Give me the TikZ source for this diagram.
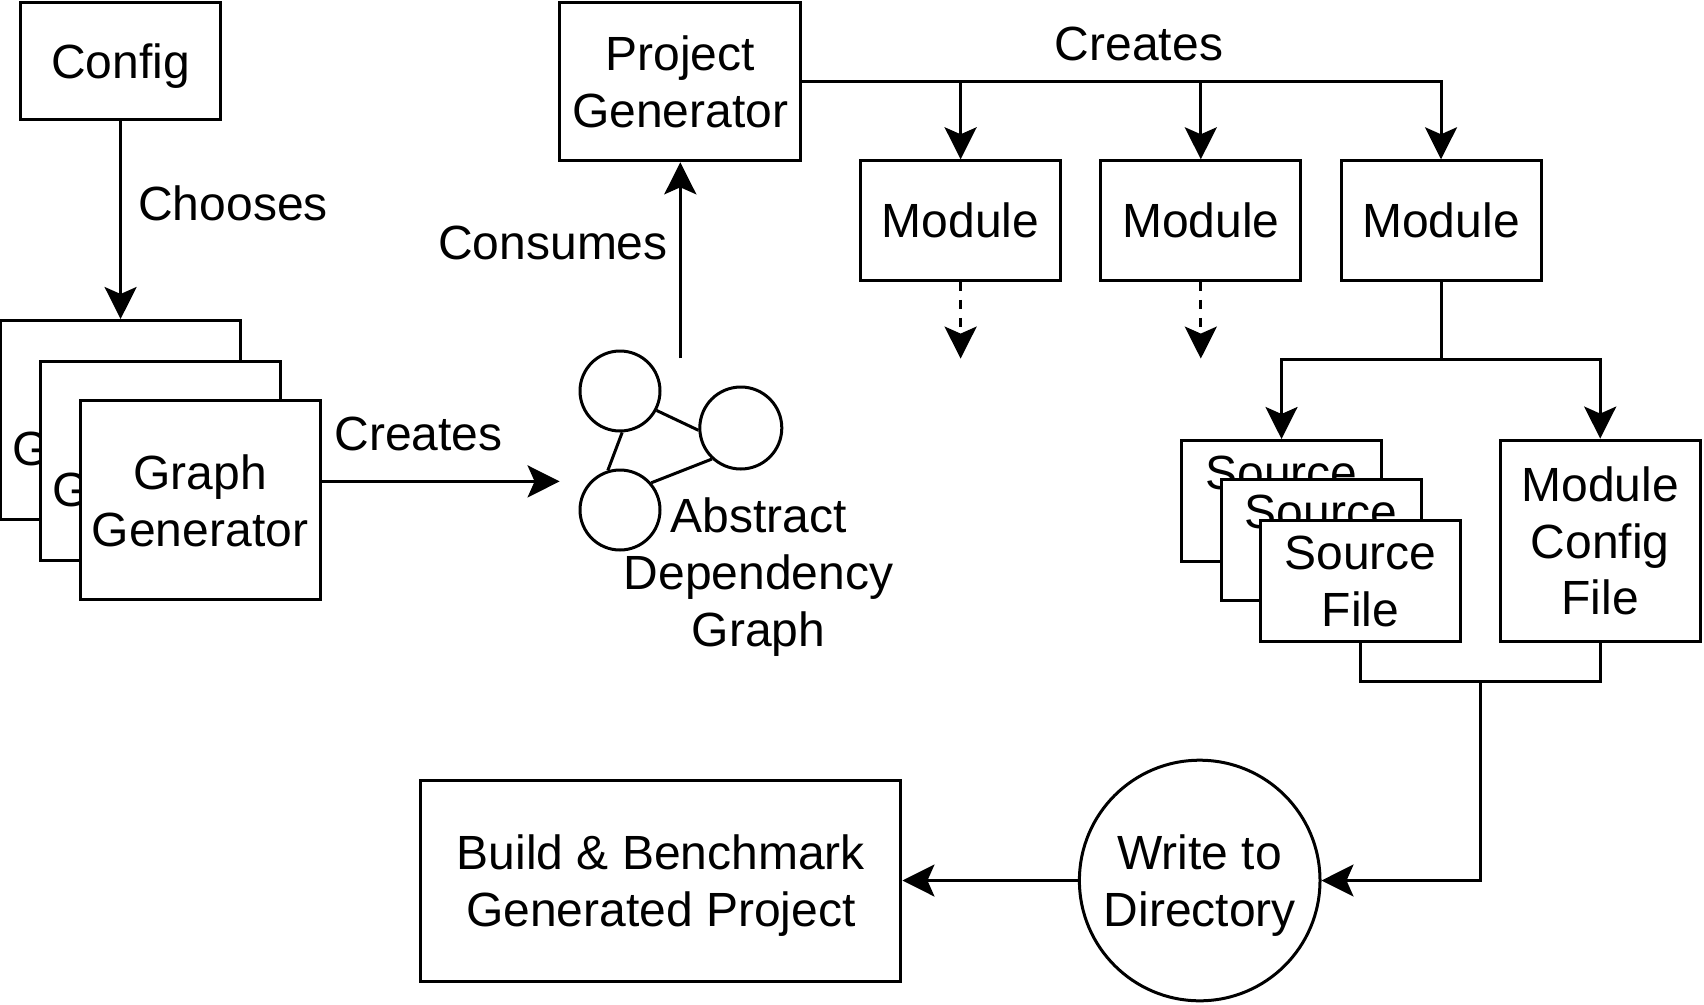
\documentclass[tikz,border=0pt]{standalone}
\usepackage{fontspec}
\setmainfont{Liberation Sans}
\usetikzlibrary{arrows.meta}
\begin{document}
\begin{tikzpicture}[x=1pt,y=-1pt,
  every node/.style={font=\fontsize{48}{56.7}\selectfont, inner sep=0pt, align=center},
  box/.style={draw, line width=3pt, fill=white, text depth=-6pt},
  ring/.style={circle, draw, line width=3pt, fill=white},
  line/.style={line width=3pt},
  arr/.style={line width=3pt, -{Stealth[length=32pt,width=32pt,inset=7pt]}},
  dashedarr/.style={arr, dash pattern=on 9pt off 9pt},
]
\useasboundingbox (0,0) rectangle (1704,1004);

% Config
\node[box, minimum width=200pt, minimum height=117pt] (config) at (120.6,61) {Config};
\node (chooses) at (233,203) {Chooses};

% Graph generator stack
\node[box, minimum width=240pt, minimum height=199pt] (gg1) at (120.6,420) {Graph\\Generator};
\node[box, minimum width=240pt, minimum height=199pt] (gg2) at (160.3,460.8) {Graph\\Generator};
\node[box, minimum width=240pt, minimum height=199pt] (gg3) at (200,500.4) {Graph\\Generator};
\draw[arr] (config) -- (gg1);

% Abstract graph icon
\node[minimum width=241pt, minimum height=245.6pt] (graph) at (680.3,481.4) {};
\node[ring, minimum size=80pt] (c1) at (620,391) {};
\node[ring, minimum size=82pt] (c2) at (740.8,428) {};
\node[ring, minimum size=80pt] (c3) at (620,510) {};
\draw[line] (c1.-28.5) -- (c2.183);
\draw[line] (c1.-87.6) -- (c3.107);
\draw[line] (c3.41.8) -- (c2.227.7);
\node (adg) at (758.5,577) {Abstract\\Dependency\\Graph};

\draw[arr] (gg3.east |- graph.west) -- (graph.west);
\node (creates1) at (418.4,433.6) {Creates};

% Project generator
\node[box, minimum width=241pt, minimum height=158.6pt] (pg) at (680.3,81.5) {Project\\Generator};
\draw[arr] (graph.north) -- (pg.south);
\node (consumes) at (553,243.4) {Consumes};

% Modules
\node[box, minimum width=200pt, minimum height=119.6pt] (m1) at (960.6,220.6) {Module};
\node[box, minimum width=200pt, minimum height=119.6pt] (m2) at (1200.8,220.6) {Module};
\node[box, minimum width=200pt, minimum height=119.6pt] (m3) at (1441,220.6) {Module};
\draw[arr] (pg.east) -| (m1.north);
\draw[arr] (pg.east) -| (m2.north);
\draw[arr] (pg.east) -| (m3.north);
\node (creates2) at (1139,43.5) {Creates};

\coordinate (d1) at (960.6,358.6);
\coordinate (d2) at (1200.8,358.6);
\draw[dashedarr] (m1.south) -- (d1);
\draw[dashedarr] (m2.south) -- (d2);

% Source files and module config file
\node[box, minimum width=200pt, minimum height=121pt] (sf1) at (1281.5,501) {Source\\File};
\node[box, minimum width=200pt, minimum height=121pt] (sf2) at (1321,540.1) {Source\\File};
\node[box, minimum width=200pt, minimum height=121pt] (sf3) at (1360.5,580.9) {Source\\File};
\node[box, minimum width=200pt, minimum height=201pt] (mcf) at (1600.2,540.6) {Module\\Config\\File};

\coordinate (split) at (1441,359.7);
\draw[line] (m3.south) -- (split);
\draw[arr] (split) -| (sf1.north);
\draw[arr] (split) -| (mcf.north);

% Write to directory
\node[ring, text depth=-6pt, minimum size=240.6pt] (wtd) at (1199.7,880.5) {Write to\\Directory};
\coordinate (join) at (1480,681.4);
\draw[line] (sf3.south) |- (join) -| (mcf.south);
\draw[arr] (join) |- (wtd.east);

% Build & benchmark
\node[box, minimum width=480.3pt, minimum height=201pt] (build) at (660.8,880.5) {Build \& Benchmark\\Generated Project};
\draw[arr] (wtd) -- (build);
\end{tikzpicture}
\end{document}
